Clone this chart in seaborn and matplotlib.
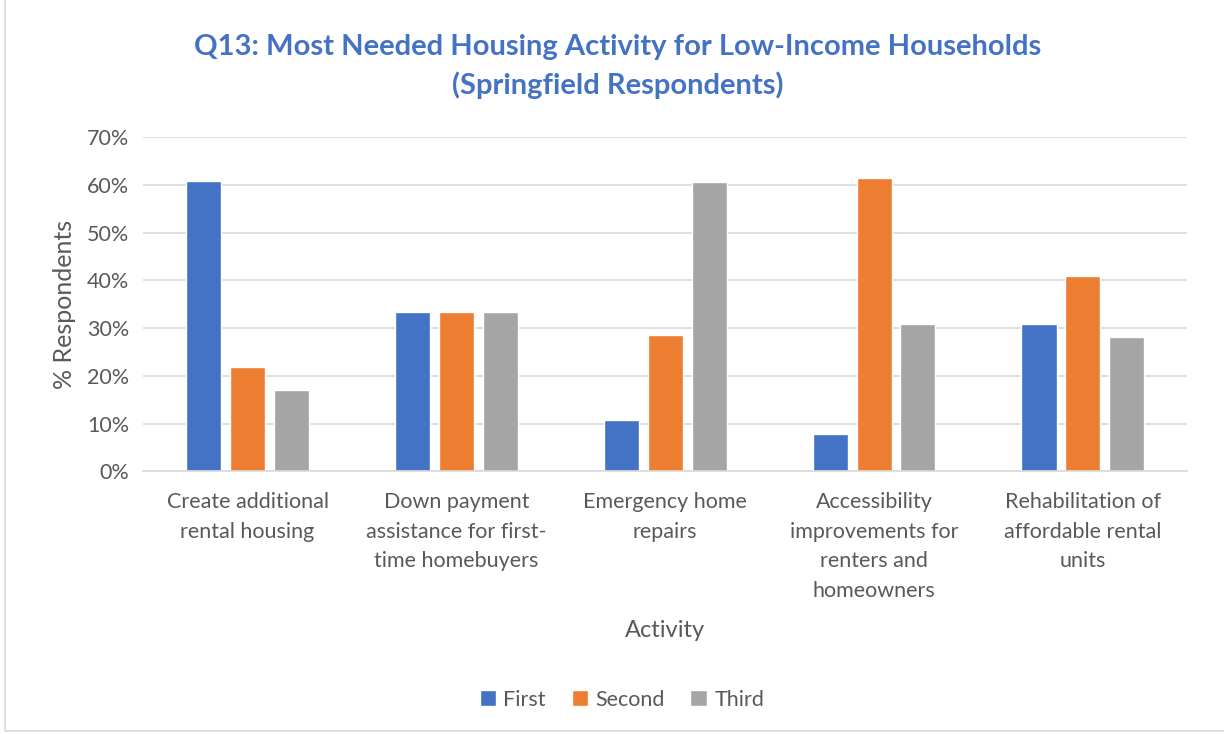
import numpy as np
import pandas as pd
import matplotlib
matplotlib.use("Agg")
import matplotlib.pyplot as plt
import seaborn as sns
from matplotlib.patches import Rectangle
from matplotlib.ticker import PercentFormatter

# data
activities = [
    "Create additional\nrental housing",
    "Down payment\nassistance for first-\ntime homebuyers",
    "Emergency home\nrepairs",
    "Accessibility\nimprovements for\nrenters and\nhomeowners",
    "Rehabilitation of\naffordable rental\nunits",
]
ranks = ["First", "Second", "Third"]
first = [60.9, 33.3, 10.7, 7.7, 30.8]
second = [21.9, 33.3, 28.5, 61.5, 41.0]
third = [17.1, 33.3, 60.7, 30.8, 28.2]
colors = ["#4472C4", "#ED7D31", "#A5A5A5"]

df = pd.DataFrame({"Activity": activities * 3,
                   "Rank": np.repeat(ranks, len(activities)),
                   "Pct": first + second + third})

sns.set_theme(style="white")
plt.rcParams["font.family"] = ["Lato", "DejaVu Sans"]
txt = "#595959"

fig, ax = plt.subplots(figsize=(12.24, 7.34), dpi=100)
fig.subplots_adjust(left=0.117, right=0.97, top=0.813, bottom=0.358)

sns.barplot(data=df, x="Activity", y="Pct", hue="Rank", palette=colors,
            width=0.63, gap=0.2, ax=ax, legend=True, errorbar=None,
            saturation=1)

ax.set_ylim(0, 70)
ax.set_yticks(range(0, 71, 10))
ax.yaxis.set_major_formatter(PercentFormatter(decimals=0))
ax.yaxis.grid(True, color="#D9D9D9", linewidth=1.2)
ax.set_axisbelow(True)
for s in ["top", "right", "left"]:
    ax.spines[s].set_visible(False)
ax.spines["bottom"].set_color("#D9D9D9")
ax.spines["bottom"].set_linewidth(1.2)
ax.tick_params(axis="both", length=0, labelsize=15.5, labelcolor=txt)
ax.tick_params(axis="x", pad=15)
ax.tick_params(axis="y", pad=10)
for lab in ax.get_xticklabels():
    lab.set_linespacing(1.6)
    lab.set_verticalalignment("top")

ax.set_ylabel("% Respondents", fontsize=18, color=txt, labelpad=8)
ax.set_xlabel("Activity", fontsize=17, color=txt, labelpad=14)

ax.get_legend().remove()
handles, labels = ax.get_legend_handles_labels()
fig.legend(handles, labels, loc="center", bbox_to_anchor=(0.508, 0.047), ncol=3,
           frameon=False, fontsize=15.5, labelcolor=txt, handlelength=0.75,
           handleheight=0.75, handletextpad=0.35, columnspacing=1.2)

fig.text(0.505, 0.91, "Q13: Most Needed Housing Activity for Low-Income Households\n(Springfield Respondents)",
         ha="center", va="center", fontsize=21, fontweight="bold",
         color="#4472C4", linespacing=1.5)

fig.patches.append(Rectangle((0.004, 0.004), 1.2, 1.2, transform=fig.transFigure,
                             fill=False, edgecolor="#D9D9D9", linewidth=1.2))

fig.savefig("out.png", dpi=100)
